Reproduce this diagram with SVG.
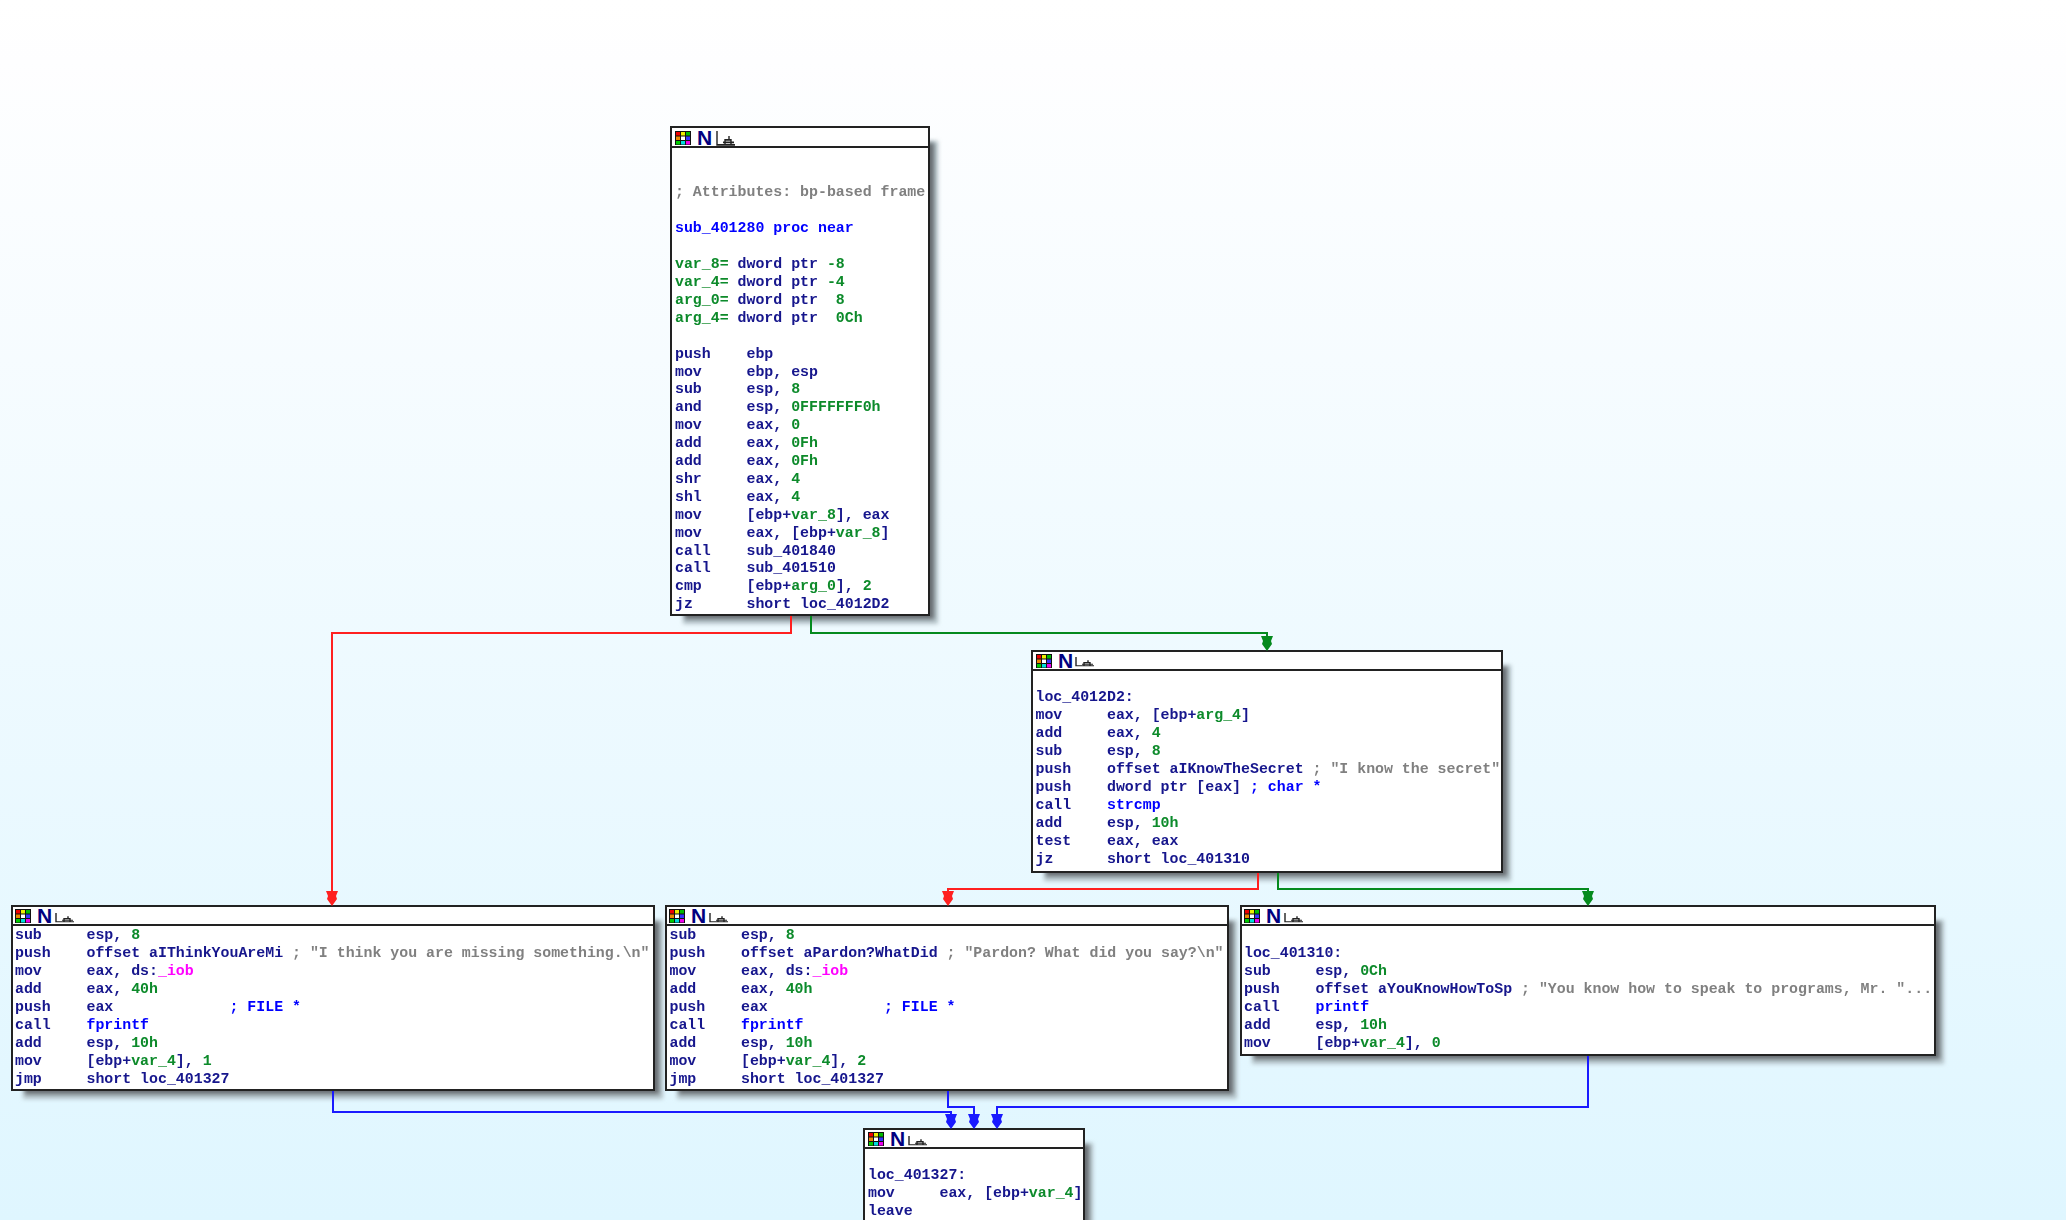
<svg xmlns="http://www.w3.org/2000/svg" width="2066" height="1220" viewBox="0 0 2066 1220">
<style>
text{font-family:"Liberation Mono","DejaVu Sans Mono",monospace;font-weight:700;font-size:14.9px;white-space:pre;fill:#14148c;filter:url(#soft);transform:translateY(-0.8px)}
.g{fill:#0a8a2a}.b{fill:#0000ff}.c{fill:#808080}.m{fill:#ff00ff}
.box{fill:#fff;stroke:#222;stroke-width:2}
.bar{stroke:#222;stroke-width:2;fill:none}
.sh1{fill:#b4c2c8;filter:url(#blur)}
.sh2{fill:#666c70;filter:url(#blur)}
.n{font-family:"Liberation Sans",Arial,sans-serif;font-size:21px;fill:#000080;filter:none}
.w{fill:none;stroke-width:2}
.red{stroke:#ff2020}.grn{stroke:#058a1e}.blu{stroke:#1a1aff}
.gl{fill:none;stroke:#222;stroke-width:1.4}
</style>
<defs>
<linearGradient id="bg" x1="0" y1="0" x2="0" y2="1"><stop offset="0" stop-color="#ffffff"/><stop offset="0.05" stop-color="#fefeff"/><stop offset="1" stop-color="#dff6ff"/></linearGradient>
<filter id="blur" x="-10%" y="-10%" width="120%" height="120%"><feGaussianBlur stdDeviation="2"/></filter>
<filter id="soft" x="-2%" y="-30%" width="104%" height="160%"><feGaussianBlur stdDeviation="0.4"/></filter>
<path id="arr" d="M-6 -15H6L4 -10L5 -7L0 0L-5 -7L-4 -10Z"/>
<g id="grid"><rect width="16" height="14" fill="#111"/><rect x="1" y="1" width="4" height="3.5" fill="#e00"/><rect x="6" y="1" width="4" height="3.5" fill="#ee0"/><rect x="11" y="1" width="4" height="3.5" fill="#0b0"/><rect x="1" y="5.500" width="4" height="3.500" fill="#e80"/><rect x="6" y="5.500" width="4" height="3.500" fill="#fff"/><rect x="11" y="5.500" width="4" height="3.500" fill="#33f"/><rect x="1" y="10" width="4" height="3.500" fill="#0c0"/><rect x="6" y="10" width="4" height="3.500" fill="#0dd"/><rect x="11" y="10" width="4" height="3.500" fill="#e0e"/></g>
<g id="gly"><path class="gl" d="M0 0V11H8M3 11H18M8 11V7H14V11M12 7V4M6 9H17"/></g>
</defs>
<rect width="2066" height="1220" fill="url(#bg)"/>

<g id="node-sub_401280">
<rect class="sh1" x="683" y="141" width="255" height="483"/><rect class="sh2" x="685" y="143" width="249" height="476"/>
<rect class="box" x="671" y="127" width="258" height="488"/><path class="bar" d="M671 147H929"/>
<use href="#grid" x="675" y="131"/><text class="n" x="697" y="146">N</text><use href="#gly" transform="translate(717 131) scale(1 1.25)"/>
<text x="675" y="197" class="c">; Attributes: bp-based frame</text>
<text x="675" y="233" class="b">sub_401280 proc near</text>
<text x="675" y="269"><tspan class="g">var_8=</tspan> dword ptr <tspan class="g">-8</tspan></text>
<text x="675" y="287"><tspan class="g">var_4=</tspan> dword ptr <tspan class="g">-4</tspan></text>
<text x="675" y="305"><tspan class="g">arg_0=</tspan> dword ptr  <tspan class="g">8</tspan></text>
<text x="675" y="323"><tspan class="g">arg_4=</tspan> dword ptr  <tspan class="g">0Ch</tspan></text>
<text x="675" y="358.5">push    ebp</text>
<text x="675" y="376.4">mov     ebp, esp</text>
<text x="675" y="394.3">sub     esp, <tspan class="g">8</tspan></text>
<text x="675" y="412.2">and     esp, <tspan class="g">0FFFFFFF0h</tspan></text>
<text x="675" y="430.1">mov     eax, <tspan class="g">0</tspan></text>
<text x="675" y="448">add     eax, <tspan class="g">0Fh</tspan></text>
<text x="675" y="465.9">add     eax, <tspan class="g">0Fh</tspan></text>
<text x="675" y="483.8">shr     eax, <tspan class="g">4</tspan></text>
<text x="675" y="501.7">shl     eax, <tspan class="g">4</tspan></text>
<text x="675" y="519.6">mov     [ebp+<tspan class="g">var_8</tspan>], eax</text>
<text x="675" y="537.5">mov     eax, [ebp+<tspan class="g">var_8</tspan>]</text>
<text x="675" y="555.4">call    sub_401840</text>
<text x="675" y="573.3">call    sub_401510</text>
<text x="675" y="591.2">cmp     [ebp+<tspan class="g">arg_0</tspan>], <tspan class="g">2</tspan></text>
<text x="675" y="609.1">jz      short loc_4012D2</text>
</g>

<g id="node-loc_4012D2">
<rect class="sh1" x="1044" y="665" width="467" height="216"/><rect class="sh2" x="1046" y="667" width="461" height="209"/>
<rect class="box" x="1032" y="651" width="470" height="221"/><path class="bar" d="M1032 670H1502"/>
<use href="#grid" x="1036" y="654"/><text class="n" x="1058" y="668.500">N</text><use href="#gly" transform="translate(1076 657) scale(1 .8)"/>
<text x="1035.500" y="702">loc_4012D2:</text>
<text x="1035.500" y="720">mov     eax, [ebp+<tspan class="g">arg_4</tspan>]</text>
<text x="1035.500" y="738">add     eax, <tspan class="g">4</tspan></text>
<text x="1035.500" y="756">sub     esp, <tspan class="g">8</tspan></text>
<text x="1035.500" y="774">push    offset aIKnowTheSecret <tspan class="c">; "I know the secret"</tspan></text>
<text x="1035.500" y="792">push    dword ptr [eax] <tspan class="b">; char *</tspan></text>
<text x="1035.500" y="810">call    <tspan class="b">strcmp</tspan></text>
<text x="1035.500" y="828">add     esp, <tspan class="g">10h</tspan></text>
<text x="1035.500" y="846">test    eax, eax</text>
<text x="1035.500" y="864">jz      short loc_401310</text>
</g>

<g id="node-missing">
<rect class="sh1" x="23" y="920" width="640" height="179"/><rect class="sh2" x="25" y="922" width="634" height="172"/>
<rect class="box" x="12" y="906" width="642" height="184"/><path class="bar" d="M12 925H654"/>
<use href="#grid" x="15" y="909"/><text class="n" x="37" y="923.500">N</text><use href="#gly" transform="translate(56 913) scale(1 .8)"/>
<text x="15" y="940">sub     esp, <tspan class="g">8</tspan></text>
<text x="15" y="958">push    offset aIThinkYouAreMi <tspan class="c">; "I think you are missing something.\n"</tspan></text>
<text x="15" y="976">mov     eax, ds:<tspan class="m">_iob</tspan></text>
<text x="15" y="994">add     eax, <tspan class="g">40h</tspan></text>
<text x="15" y="1012">push    eax             <tspan class="b">; FILE *</tspan></text>
<text x="15" y="1030">call    <tspan class="b">fprintf</tspan></text>
<text x="15" y="1048">add     esp, <tspan class="g">10h</tspan></text>
<text x="15" y="1066">mov     [ebp+<tspan class="g">var_4</tspan>], <tspan class="g">1</tspan></text>
<text x="15" y="1084">jmp     short loc_401327</text>
</g>

<g id="node-pardon">
<rect class="sh1" x="677" y="920" width="560" height="179"/><rect class="sh2" x="679" y="922" width="554" height="172"/>
<rect class="box" x="666" y="906" width="562" height="184"/><path class="bar" d="M666 925H1228"/>
<use href="#grid" x="669" y="909"/><text class="n" x="691" y="923.500">N</text><use href="#gly" transform="translate(710 913) scale(1 .8)"/>
<text x="669.500" y="940">sub     esp, <tspan class="g">8</tspan></text>
<text x="669.500" y="958">push    offset aPardon?WhatDid <tspan class="c">; "Pardon? What did you say?\n"</tspan></text>
<text x="669.500" y="976">mov     eax, ds:<tspan class="m">_iob</tspan></text>
<text x="669.500" y="994">add     eax, <tspan class="g">40h</tspan></text>
<text x="669.500" y="1012">push    eax             <tspan class="b">; FILE *</tspan></text>
<text x="669.500" y="1030">call    <tspan class="b">fprintf</tspan></text>
<text x="669.500" y="1048">add     esp, <tspan class="g">10h</tspan></text>
<text x="669.500" y="1066">mov     [ebp+<tspan class="g">var_4</tspan>], <tspan class="g">2</tspan></text>
<text x="669.500" y="1084">jmp     short loc_401327</text>
</g>

<g id="node-loc_401310">
<rect class="sh1" x="1252" y="920" width="692" height="144"/><rect class="sh2" x="1254" y="922" width="686" height="137"/>
<rect class="box" x="1241" y="906" width="694" height="149"/><path class="bar" d="M1241 925H1935"/>
<use href="#grid" x="1244" y="909"/><text class="n" x="1266" y="923.500">N</text><use href="#gly" transform="translate(1285 913) scale(1 .8)"/>
<text x="1244" y="958">loc_401310:</text>
<text x="1244" y="976">sub     esp, <tspan class="g">0Ch</tspan></text>
<text x="1244" y="994">push    offset aYouKnowHowToSp <tspan class="c">; "You know how to speak to programs, Mr. "...</tspan></text>
<text x="1244" y="1012">call    <tspan class="b">printf</tspan></text>
<text x="1244" y="1030">add     esp, <tspan class="g">10h</tspan></text>
<text x="1244" y="1048">mov     [ebp+<tspan class="g">var_4</tspan>], <tspan class="g">0</tspan></text>
</g>

<g id="node-loc_401327">
<rect class="sh1" x="875" y="1143" width="218" height="90"/><rect class="sh2" x="877" y="1145" width="212" height="90"/>
<rect class="box" x="864" y="1129" width="220" height="110"/><path class="bar" d="M864 1148H1084"/>
<use href="#grid" x="868" y="1132"/><text class="n" x="890" y="1146.500">N</text><use href="#gly" transform="translate(909 1136) scale(1 .8)"/>
<text x="868" y="1180">loc_401327:</text>
<text x="868" y="1198">mov     eax, [ebp+<tspan class="g">var_4</tspan>]</text>
<text x="868" y="1216">leave</text>
</g>

<g id="connectors">
<path class="w red" d="M791 616V633H332V892"/><use href="#arr" x="332" y="906" fill="#ff2020"/>
<path class="w grn" d="M811 616V633H1267V637"/><use href="#arr" x="1267" y="651" fill="#058a1e"/>
<path class="w red" d="M1258 873V889H948V892"/><use href="#arr" x="948" y="906" fill="#ff2020"/>
<path class="w grn" d="M1278 873V889H1588V892"/><use href="#arr" x="1588" y="906" fill="#058a1e"/>
<path class="w blu" d="M333 1091V1112H951V1115"/><use href="#arr" x="951" y="1129" fill="#1a1aff"/>
<path class="w blu" d="M948 1091V1107H974V1115"/><use href="#arr" x="974" y="1129" fill="#1a1aff"/>
<path class="w blu" d="M1588 1056V1107H997V1115"/><use href="#arr" x="997" y="1129" fill="#1a1aff"/>
</g>
</svg>
